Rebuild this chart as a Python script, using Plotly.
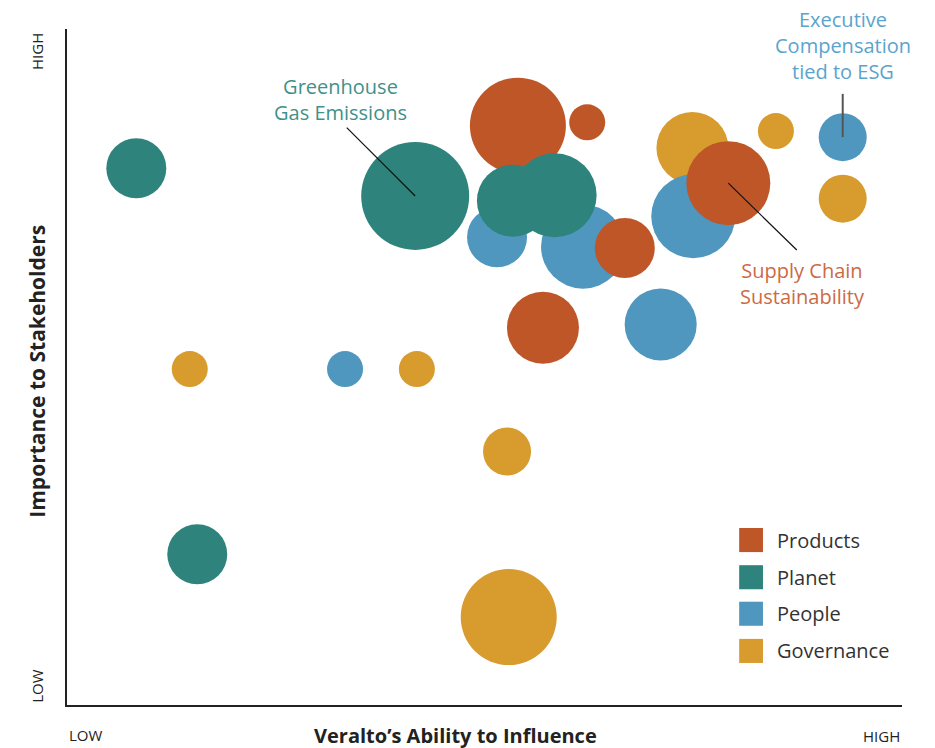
import plotly.graph_objects as go

# ---- data (0-10 scales: ability to influence, importance to stakeholders) ----
categories = ["Products", "Planet", "People", "Governance"]
colors = {"Products": "#BE5628", "Planet": "#2E847C", "People": "#4F97BF", "Governance": "#D79B2E"}

products_x = [5.40, 6.23, 6.68, 5.70, 7.92]
products_y = [8.57, 8.62, 6.76, 5.58, 7.72]
products_w = [6, 1, 3, 4, 5]

planet_x = [0.83, 4.17, 5.34, 5.84, 1.56]
planet_y = [7.94, 7.53, 7.46, 7.54, 2.23]
planet_w = [3, 7, 4, 5, 3]

people_x = [5.15, 6.18, 7.50, 7.11, 3.33, 9.29]
people_y = [6.92, 6.78, 7.23, 5.63, 4.97, 8.40]
people_w = [3, 5, 5, 4, 1, 2]

governance_x = [7.49, 8.49, 9.29, 1.47, 4.19, 5.27, 5.29]
governance_y = [8.24, 8.49, 7.49, 4.97, 4.97, 3.75, 1.30]
governance_w = [4, 1, 2, 1, 1, 2, 6]

series = {
    "Products": (products_x, products_y, products_w),
    "Planet": (planet_x, planet_y, planet_w),
    "People": (people_x, people_y, people_w),
    "Governance": (governance_x, governance_y, governance_w),
}

# callouts: label text, colour, text position, line start, line end (bubble centre)
callouts = [
    ("Greenhouse<br>Gas Emissions", "#3F918A", (3.27, 8.95), (3.35, 8.54), (4.17, 7.53)),
    ("Executive<br>Compensation<br>tied to ESG", "#5BA4CC", (9.29, 9.75), (9.29, 9.04), (9.29, 8.40)),
    ("Supply Chain<br>Sustainability", "#CC6A45", (8.81, 6.24), (8.74, 6.73), (7.92, 7.72)),
]
line_colors = ["#111111", "#555555", "#111111"]

axis_low, axis_high = "LOW", "HIGH"
x_title = "Veralto’s Ability to Influence"
y_title = "Importance to Stakeholders"

FONT = "Open Sans"

def diameter(w):
    return 24 + 12 * w

fig = go.Figure()
draw_order = ["Governance", "People", "Products", "Planet"]
for name in draw_order:
    xs, ys, ws = series[name]
    fig.add_trace(go.Scatter(
        x=xs, y=ys, mode="markers", name=name, showlegend=False,
        marker=dict(size=[diameter(w) for w in ws], sizemode="diameter",
                    color=colors[name], opacity=1, line=dict(width=0)),
        cliponaxis=False, hoverinfo="name",
    ))

shapes = []
annotations = []

# callout lines and texts
for (txt, col, tpos, p0, p1), lc in zip(callouts, line_colors):
    shapes.append(dict(type="line", xref="x", yref="y", x0=p0[0], y0=p0[1], x1=p1[0], y1=p1[1],
                       line=dict(color=lc, width=1.2 if lc == "#111111" else 2)))
    annotations.append(dict(x=tpos[0], y=tpos[1], xref="x", yref="y", text=txt, showarrow=False,
                            font=dict(family=FONT, size=20, color=col), align="center"))

# legend (custom squares)
leg_y = [0.244, 0.189, 0.135, 0.080]
for name, yc in zip(categories, leg_y):
    shapes.append(dict(type="rect", xref="paper", yref="paper", x0=0.805, x1=0.8335,
                       y0=yc - 0.0178, y1=yc + 0.0178, fillcolor=colors[name], line=dict(width=0)))
    annotations.append(dict(x=0.848, y=yc, xref="paper", yref="paper", text=name, showarrow=False,
                            xanchor="left", yanchor="middle",
                            font=dict(family=FONT, size=20, color="#333333")))

# axis end labels
tick_font = dict(family=FONT, size=15, color="#222222")
annotations += [
    dict(x=0, y=0, xref="paper", yref="paper", text=axis_low, showarrow=False, xanchor="left",
         yanchor="middle", yshift=-30, font=tick_font),
    dict(x=1, y=0, xref="paper", yref="paper", text=axis_high, showarrow=False, xanchor="right",
         yanchor="middle", yshift=-31, font=tick_font),
    dict(x=0, y=0.027, xref="paper", yref="paper", text=axis_low, showarrow=False, textangle=-90,
         xanchor="center", yanchor="middle", xshift=-30, font=tick_font),
    dict(x=0, y=0.966, xref="paper", yref="paper", text=axis_high, showarrow=False, textangle=-90,
         xanchor="center", yanchor="middle", xshift=-30, font=tick_font),
    dict(x=0.465, y=0, xref="paper", yref="paper", text="<b>" + x_title + "</b>", showarrow=False,
         xanchor="center", yanchor="middle", yshift=-30, font=dict(family=FONT, size=20, color="#222222")),
    dict(x=0, y=0.493, xref="paper", yref="paper", text="<b>" + y_title + "</b>", showarrow=False,
         textangle=-90, xanchor="center", yanchor="middle", xshift=-30,
         font=dict(family=FONT, size=21, color="#222222")),
]

fig.update_layout(
    width=935, height=748,
    margin=dict(l=67, r=33, t=29, b=43),
    paper_bgcolor="white", plot_bgcolor="white",
    xaxis=dict(range=[0, 10], showgrid=False, zeroline=False, showticklabels=False, ticks="",
               showline=True, linecolor="#222222", linewidth=1.5, fixedrange=True),
    yaxis=dict(range=[0, 10], showgrid=False, zeroline=False, showticklabels=False, ticks="",
               showline=True, linecolor="#222222", linewidth=1.5, fixedrange=True),
    shapes=shapes, annotations=annotations, showlegend=False,
    font=dict(family=FONT),
)

# remove the browser's default 8px body margin so the figure fills the window exactly
fig.write_html("out.html", config={"displayModeBar": False},
               post_script="document.body.style.margin='0';document.body.style.overflow='hidden';")
